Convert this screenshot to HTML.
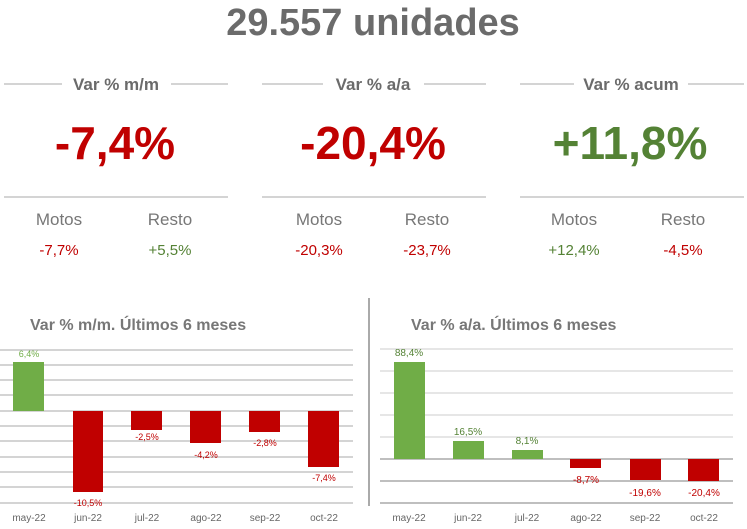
<!DOCTYPE html><html><head><style>body{margin:0;background:#fff}svg{display:block;font-family:"Liberation Sans",sans-serif}</style></head><body>
<svg width="747" height="529" viewBox="0 0 747 529">
<text x="373" y="35" text-anchor="middle" font-size="38" font-weight="bold" fill="#6b6b6b">29.557 unidades</text>
<g stroke="#bbb" stroke-width="1.3">
<line x1="4" y1="84" x2="62" y2="84"/><line x1="171" y1="84" x2="228" y2="84"/><line x1="4" y1="197" x2="228" y2="197"/>
<line x1="262" y1="84" x2="323" y2="84"/><line x1="424" y1="84" x2="486" y2="84"/><line x1="262" y1="197" x2="486" y2="197"/>
<line x1="520" y1="84" x2="574" y2="84"/><line x1="688" y1="84" x2="744" y2="84"/><line x1="520" y1="197" x2="744" y2="197"/>
</g>
<g font-size="17" font-weight="bold" fill="#6b6b6b" text-anchor="middle">
<text x="116" y="90">Var % m/m</text><text x="373" y="90">Var % a/a</text><text x="631" y="90">Var % acum</text></g>
<g font-size="46" font-weight="bold" text-anchor="middle">
<text x="115" y="159" fill="#c00000">-7,4%</text><text x="373" y="159" fill="#c00000">-20,4%</text><text x="630" y="159" fill="#548235">+11,8%</text></g>
<g font-size="17" fill="#777" text-anchor="middle">
<text x="59" y="225">Motos</text><text x="170" y="225">Resto</text>
<text x="319" y="225">Motos</text><text x="427" y="225">Resto</text>
<text x="574" y="225">Motos</text><text x="683" y="225">Resto</text></g>
<g font-size="15" text-anchor="middle">
<text x="59" y="255" fill="#c00000">-7,7%</text><text x="170" y="255" fill="#548235">+5,5%</text>
<text x="319" y="255" fill="#c00000">-20,3%</text><text x="427" y="255" fill="#c00000">-23,7%</text>
<text x="574" y="255" fill="#548235">+12,4%</text><text x="683" y="255" fill="#c00000">-4,5%</text></g>
<line x1="369" y1="298" x2="369" y2="506" stroke="#555" stroke-width="1"/>
<!-- left chart -->
<text x="30" y="330" font-size="16" font-weight="bold" fill="#777">Var % m/m. Últimos 6 meses</text>
<g stroke="#bbb" stroke-width="1.3">
<line x1="0" y1="350" x2="353" y2="350"/><line x1="0" y1="365" x2="353" y2="365"/><line x1="0" y1="380" x2="353" y2="380"/><line x1="0" y1="395" x2="353" y2="395"/><line x1="0" y1="411" x2="353" y2="411"/><line x1="0" y1="426" x2="353" y2="426"/><line x1="0" y1="441" x2="353" y2="441"/><line x1="0" y1="457" x2="353" y2="457"/><line x1="0" y1="472" x2="353" y2="472"/><line x1="0" y1="487" x2="353" y2="487"/><line x1="0" y1="503" x2="353" y2="503"/></g>
<rect x="13" y="362" width="31" height="49" fill="#70ad47"/>
<g fill="#c00000"><rect x="73" y="411" width="30" height="81"/><rect x="131" y="411" width="31" height="19"/><rect x="190" y="411" width="31" height="32"/><rect x="249" y="411" width="31" height="21"/><rect x="308" y="411" width="31" height="56"/></g>
<g font-size="9" text-anchor="middle"><text x="29" y="357" fill="#70ad47">6,4%</text>
<g fill="#c00000"><text x="88" y="506">-10,5%</text><text x="147" y="440">-2,5%</text><text x="206" y="458">-4,2%</text><text x="265" y="446">-2,8%</text><text x="324" y="481">-7,4%</text></g></g>
<g font-size="10" fill="#666" text-anchor="middle"><text x="29" y="521">may-22</text><text x="88" y="521">jun-22</text><text x="147" y="521">jul-22</text><text x="206" y="521">ago-22</text><text x="265" y="521">sep-22</text><text x="324" y="521">oct-22</text></g>
<!-- right chart -->
<text x="411" y="330" font-size="16" font-weight="bold" fill="#777">Var % a/a. Últimos 6 meses</text>
<g stroke="#ccc" stroke-width="1"><line x1="380" y1="349" x2="733" y2="349"/><line x1="380" y1="371" x2="733" y2="371"/><line x1="380" y1="393" x2="733" y2="393"/><line x1="380" y1="415" x2="733" y2="415"/><line x1="380" y1="437" x2="733" y2="437"/></g>
<g stroke="#aaa" stroke-width="1.6"><line x1="380" y1="459" x2="733" y2="459"/><line x1="380" y1="481" x2="733" y2="481"/><line x1="380" y1="503" x2="733" y2="503"/></g>
<g fill="#70ad47"><rect x="394" y="362" width="31" height="97"/><rect x="453" y="441" width="31" height="18"/><rect x="512" y="450" width="31" height="9"/></g>
<g fill="#c00000"><rect x="570" y="459" width="31" height="9"/><rect x="630" y="459" width="31" height="21"/><rect x="688" y="459" width="31" height="22"/></g>
<g font-size="10" text-anchor="middle"><g fill="#548235"><text x="409" y="356">88,4%</text><text x="468" y="435">16,5%</text><text x="527" y="444">8,1%</text></g>
<g fill="#c00000"><text x="586" y="483">-8,7%</text><text x="645" y="496">-19,6%</text><text x="704" y="496">-20,4%</text></g></g>
<g font-size="10" fill="#666" text-anchor="middle"><text x="409" y="521">may-22</text><text x="468" y="521">jun-22</text><text x="527" y="521">jul-22</text><text x="586" y="521">ago-22</text><text x="645" y="521">sep-22</text><text x="704" y="521">oct-22</text></g>
</svg></body></html>
